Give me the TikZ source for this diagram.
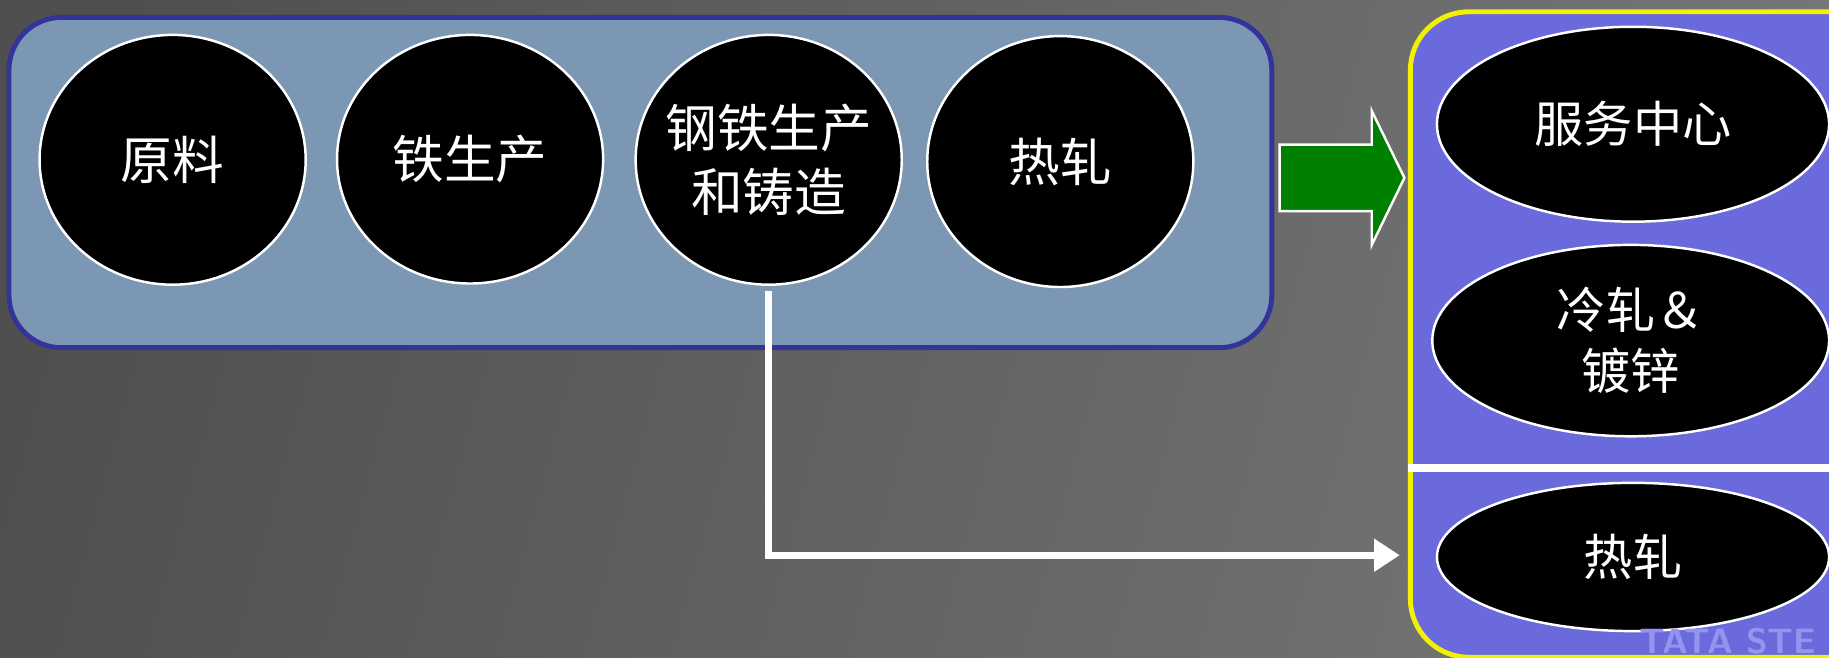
\documentclass[tikz,border=0pt]{standalone}
\usepackage{fontspec}
\setmainfont{Noto Sans CJK SC}
\usetikzlibrary{shapes.geometric,arrows.meta}
\definecolor{bgL}{HTML}{4F4F4F}
\definecolor{bgR}{HTML}{777777}
\definecolor{lboxfill}{HTML}{7C97B3}
\definecolor{lboxline}{HTML}{33339A}
\definecolor{rboxfill}{HTML}{6A6ADC}
\definecolor{rboxline}{HTML}{F2F200}
\definecolor{garrow}{HTML}{008000}
\definecolor{wmark}{HTML}{9494EE}
\tikzset{
  stage/.style={ellipse, fill=black, draw=white, line width=0.6pt, inner sep=0pt},
  stagetext/.style={text=white, align=center, inner sep=0pt, font=\fontsize{12.6pt}{15.4pt}\selectfont},
  outlettext/.style={text=white, align=center, inner sep=0pt, font=\fontsize{12pt}{14.8pt}\selectfont},
  flow/.style={draw=white, line width=1.7pt, line join=miter}
}
\begin{document}
\begin{tikzpicture}[x=0.01cm,y=-0.01cm]
\useasboundingbox (0,0) rectangle (1568,564);
\clip (0,0) rectangle (1568,564);
% background
\shade[left color=bgL, right color=bgR, shading angle=75] (-50,-50) rectangle (1620,620);
% left container
\node[draw=lboxline, fill=lboxfill, line width=1.2pt, rounded corners=0.45cm,
  minimum width=10.82cm, minimum height=2.83cm, inner sep=0pt] (lb) at (549,156.5) {};
% stages
\node[stage, minimum width=2.28cm, minimum height=2.14cm,
  label={[stagetext]center:原料}] (c1) at (148,137) {};
\node[stage, minimum width=2.28cm, minimum height=2.13cm,
  label={[stagetext]center:铁生产}] (c2) at (403,136.5) {};
\node[stage, minimum width=2.28cm, minimum height=2.14cm,
  label={[stagetext]center:钢铁生产\\和铸造}] (c3) at (659,137) {};
\node[stage, minimum width=2.28cm, minimum height=2.15cm,
  label={[stagetext]center:热轧}] (c4) at (909,138.5) {};
% right container
\node[draw=rboxline, fill=rboxfill, line width=1.2pt, rounded corners=0.5cm,
  minimum width=4.2cm, minimum height=5.53cm, inner sep=0pt, anchor=north west] (rb) at (1207,8) {};
% divider
\coordinate (dv) at (1207,401);
\draw[white, line width=2pt] (dv) -- ++(400,0);
% outlets
\node[stage, minimum width=3.36cm, minimum height=1.67cm,
  label={[outlettext]center:服务中心}] (e1) at (1400,106.5) {};
\node[stage, minimum width=3.40cm, minimum height=1.64cm,
  label={[outlettext]center:冷轧＆\\镀锌}] (e2) at (1398,292) {};
\node[stage, minimum width=3.36cm, minimum height=1.27cm,
  label={[outlettext]center:热轧}] (e3) at (1400,477.5) {};
% watermark
\node[text=wmark, font=\sffamily\bfseries\fontsize{8.6pt}{9pt}\selectfont, anchor=south west, inner sep=0pt]
  (wm) at (1405,562) {TATA STE};
% green block arrow
\draw[fill=garrow, draw=white, line width=0.6pt]
  (1097,124) -- (1176,124) -- (1176,95) -- (1204,152.5) -- (1176,210) -- (1176,181) -- (1097,181) -- cycle;
% white connector
\coordinate (tip) at (1200,476);
\draw[flow, -{Triangle[length=0.22cm,width=0.27cm]}, shorten <=0.04cm]
  (c3.south) -- (c3.south |- tip) -- (tip);
\end{tikzpicture}
\end{document}
